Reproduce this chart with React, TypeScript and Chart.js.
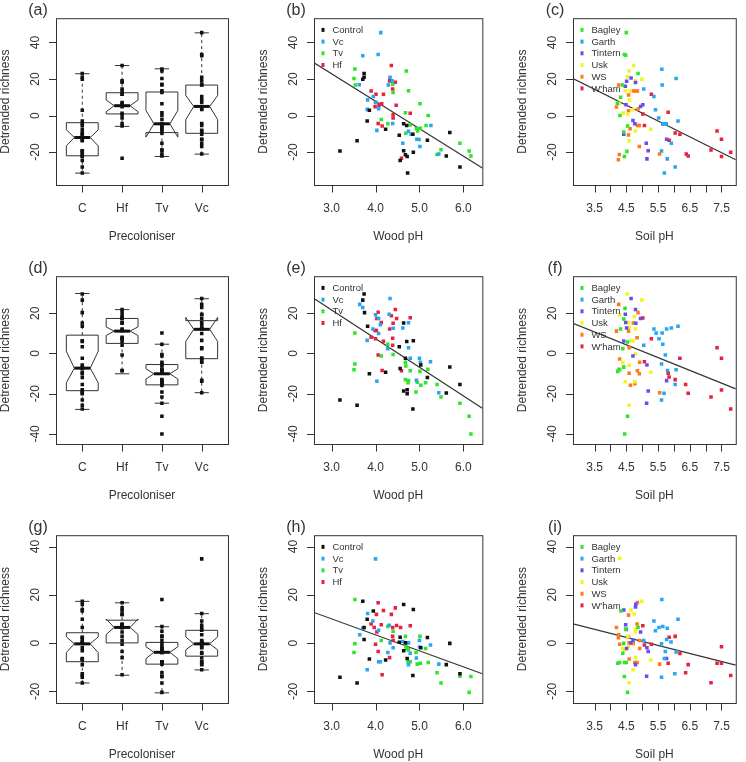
import React, { useEffect, useRef } from "react";
import { Chart, registerables } from "chart.js";

Chart.register(...registerables);

const FONT = "'Liberation Sans', Arial, Helvetica, sans-serif";
const INK = "#333333";

// ---------- categories / ticks ----------
const precolonisers = ["C", "Hf", "Tv", "Vc"];
const woodTicks = [3, 4, 5, 6];
const soilTicks = [3.5, 4, 4.5, 5, 5.5, 6, 6.5, 7, 7.5];
const soilLabelled = [3.5, 4.5, 5.5, 6.5, 7.5];
const catTicks = [1, 2, 3, 4];
const woodGroups = ["Control", "Vc", "Tv", "Hf"];
const woodColors = ["#111111", "#27A6F2", "#2EE52E", "#E6223F"];
const siteGroups = ["Bagley", "Garth", "Tintern", "Usk", "WS", "W'ham"];
const siteColors = ["#2EE52E", "#27A6F2", "#6A4BF2", "#F3F31E", "#FF7A1A", "#E6223F"];

type Pair = [number, number];

// ---------- panel (b): wood pH, row 1 ----------
const bControl: Pair[] = [[3.19,-19.4],[3.58,-13.8],[3.71,19.9],[3.74,23.0],[3.74,21.0],[3.81,-3.0],[3.86,2.9],[4.23,-7.5],[4.54,-10.8],[4.56,-24.6],[4.64,-4.5],[4.64,-19.2],[4.68,-21.5],[4.71,-5.4],[4.72,-22.4],[4.73,-31.4],[4.85,-10.2],[4.86,-20.1],[5.18,-13.5],[5.61,-22.1],[5.69,-9.3],[5.92,-28.2]];
const bVc: Pair[] = [[4.12,45.4],[3.71,32.8],[4.06,33.4],[3.63,16.9],[3.82,8.6],[3.81,3.4],[3.95,10.4],[4.01,7.2],[4.03,-8.1],[4.07,3.8],[4.33,21.0],[4.29,16.7],[4.38,19.0],[4.39,-4.3],[4.62,-15.1],[4.75,-8.6],[4.81,-10.2],[4.94,-12.9],[4.99,-13.1],[5.01,-16.9],[5.26,-5.4],[5.44,-21.0]];
const bTv: Pair[] = [[3.53,25.5],[3.51,20.3],[3.54,16.7],[4.13,-2.2],[4.28,-4.5],[4.39,17.2],[4.40,12.6],[4.70,24.4],[4.75,13.6],[4.68,1.6],[4.69,-9.7],[4.79,-5.2],[4.93,-7.2],[4.96,-8.4],[5.01,6.5],[5.02,-7.0],[5.15,-5.4],[5.20,0.0],[5.40,-21.3],[5.49,-18.7],[5.92,-15.2],[6.13,-19.4],[6.17,-22.1]];
const bHf: Pair[] = [[3.90,13.5],[4.00,7.2],[4.01,11.7],[3.99,4.8],[4.06,-4.3],[4.08,5.6],[4.15,-5.7],[4.18,11.7],[4.36,27.4],[4.32,19.0],[4.39,14.5],[4.45,18.3],[4.40,0.5],[4.47,5.7],[4.40,-1.3],[4.79,1.3],[4.59,-23.3],[4.14,6.5]];
const bLineX = [2.6, 6.43];
const bLineY = [28.9, -28.7];

// ---------- panel (c): soil pH, row 1 ----------
const cBagley: Pair[] = [[4.50,45.4],[4.44,33.4],[4.48,33.0],[4.38,16.7],[4.32,10.0],[4.22,6.8],[4.30,0.0],[4.87,23.0],[4.54,-5.7],[4.42,-9.0],[4.52,-19.6],[4.44,-22.4]];
const cGarth: Pair[] = [[5.62,25.3],[5.63,16.7],[6.07,20.3],[5.05,14.5],[5.37,10.4],[5.42,3.2],[5.52,-1.3],[6.13,-3.0],[5.65,-4.8],[5.71,-4.5],[5.76,-4.5],[5.92,-15.1],[5.61,-19.4],[5.79,-23.7],[6.04,-28.2],[5.70,-31.4]];
const cTintern: Pair[] = [[4.65,20.6],[4.51,18.8],[4.47,16.1],[4.79,18.1],[4.49,5.9],[4.95,5.0],[5.02,5.9],[4.71,-2.7],[4.77,-4.5],[4.42,-10.2],[5.13,-15.2],[5.19,-19.2],[5.15,-23.7],[5.77,-12.9]];
const cUsk: Pair[] = [[4.73,27.4],[4.59,24.4],[4.53,21.2],[4.79,19.0],[4.99,19.9],[4.47,13.6],[4.62,13.5],[4.60,8.6],[4.27,6.8],[4.40,1.4],[4.55,0.9],[4.71,3.2],[4.79,-8.4],[4.59,-13.8],[5.27,-7.5]];
const cWS: Pair[] = [[4.26,16.7],[4.19,4.7],[4.57,11.3],[4.72,13.5],[4.79,13.5],[4.85,13.5],[4.87,3.6],[4.57,2.7],[4.62,-7.2],[4.57,-10.6],[4.85,-5.4],[4.91,-5.4],[4.91,-16.9],[4.28,-21.3],[4.25,-24.2],[5.55,-21.0]];
const cWham: Pair[] = [[5.29,11.7],[5.02,0.9],[5.07,-5.4],[5.82,1.8],[5.85,-13.5],[6.04,-9.5],[6.19,-10.2],[6.39,-21.0],[6.45,-22.1],[7.17,-18.8],[7.36,-8.4],[7.50,-12.9],[7.50,-22.4],[7.79,-20.1]];
const cLineX = [2.82, 7.95];
const cLineY = [20.3, -24.2];

// ---------- panel (e): wood pH, row 2 ----------
const eControl: Pair[] = [[3.19,-23.1],[3.58,-25.7],[3.74,29.6],[3.71,26.5],[3.75,20.3],[3.82,13.5],[3.86,-10.1],[4.23,-9.3],[4.54,3.3],[4.56,-7.5],[4.64,15.1],[4.64,-18.7],[4.68,-2.4],[4.71,5.9],[4.72,-18.0],[4.72,-20.0],[4.86,6.3],[4.85,-27.6],[5.03,-5.7],[5.18,-11.9],[5.61,-19.7],[5.69,-6.7],[5.92,-15.4]];
const eVc: Pair[] = [[4.33,27.3],[3.64,24.4],[3.71,22.8],[3.81,6.5],[3.94,12.2],[4.00,19.2],[4.07,17.4],[4.11,14.3],[4.07,9.9],[4.03,-13.8],[4.28,2.4],[4.31,19.5],[4.40,12.5],[4.62,12.7],[4.75,15.3],[4.75,2.8],[4.79,-2.4],[5.00,-2.4],[5.02,-4.4],[5.25,-4.1],[4.93,-13.3],[5.44,-19.5]];
const eTv: Pair[] = [[3.53,10.2],[3.53,-5.2],[3.51,-8.1],[4.13,-1.3],[4.28,4.6],[4.40,-0.5],[4.68,-4.4],[4.69,-6.2],[4.68,-13.0],[4.74,-14.6],[4.75,-13.5],[4.79,-8.6],[4.92,-19.2],[4.95,-14.3],[5.01,-8.9],[5.03,-15.8],[5.14,-14.6],[5.19,-7.8],[5.40,-15.4],[5.49,-21.6],[5.92,-24.7],[6.13,-31.2],[6.17,-40.0]];
const eHf: Pair[] = [[4.06,20.5],[4.03,17.4],[4.13,15.4],[3.90,8.1],[3.99,11.4],[4.02,11.4],[4.00,7.3],[4.18,6.0],[4.36,18.7],[4.40,15.0],[4.45,21.8],[4.48,17.4],[4.32,12.2],[4.39,7.6],[4.39,4.1],[4.06,-0.8],[4.15,-8.5],[4.59,-8.6],[4.79,17.7]];
const eLineX = [2.6, 6.43];
const eLineY = [27.3, -27.2];

// ---------- panel (f): soil pH, row 2 ----------
const fBagley: Pair[] = [[4.46,22.4],[4.42,17.1],[4.32,12.2],[4.54,5.7],[4.39,2.4],[4.42,-6.8],[4.23,-8.9],[4.29,-8.1],[4.54,-31.2],[4.45,-40.0]];
const fGarth: Pair[] = [[5.37,12.2],[5.44,10.1],[5.63,10.2],[5.77,12.2],[5.92,12.7],[6.13,13.5],[5.53,7.3],[5.65,4.6],[5.05,4.1],[5.73,-0.8],[5.61,-5.2],[5.80,-8.5],[6.07,-8.1],[6.04,-15.4],[5.69,-19.8],[5.61,-23.1]];
const fTintern: Pair[] = [[4.65,27.3],[4.79,21.8],[4.47,19.5],[4.48,15.4],[4.80,15.0],[4.51,12.7],[4.95,17.4],[4.42,6.2],[4.71,-1.3],[5.15,-5.7],[5.77,-13.5],[5.19,-18.7],[5.14,-24.7]];
const fUsk: Pair[] = [[4.53,29.6],[4.99,26.5],[4.29,19.2],[4.75,18.4],[4.57,15.4],[4.59,13.0],[4.79,12.2],[4.67,6.2],[4.71,6.2],[4.79,-0.3],[4.39,-4.6],[4.59,-5.9],[4.47,-14.1],[4.77,-14.1],[5.27,-9.3],[4.59,-25.7]];
const fWS: Pair[] = [[4.26,24.4],[4.19,11.1],[4.57,11.1],[4.72,15.1],[4.87,20.3],[4.84,7.8],[4.59,2.9],[4.29,-2.8],[4.27,-7.8],[4.92,-4.4],[4.85,-8.6],[4.91,-10.1],[4.59,-9.8],[4.63,-15.8],[4.77,-15.0],[5.55,-19.5]];
const fWham: Pair[] = [[5.02,17.6],[5.29,7.3],[5.07,-4.1],[6.19,-2.4],[5.82,-9.8],[5.85,-11.7],[6.04,-13.0],[6.37,-15.4],[6.45,-19.8],[7.17,-21.6],[7.36,2.8],[7.50,-2.4],[7.50,-18.2],[7.79,-27.6]];
const fLineX = [2.82, 7.95];
const fLineY = [15.0, -17.6];

// ---------- panel (h): wood pH, row 3 ----------
const hControl: Pair[] = [[3.19,-14.1],[3.58,-16.5],[3.71,17.3],[3.74,6.5],[3.74,1.5],[3.81,9.9],[3.86,-6.6],[3.95,13.3],[4.23,-7.0],[4.54,0.4],[4.56,2.4],[4.64,16.0],[4.64,-3.2],[4.68,0.1],[4.72,-6.4],[4.86,13.9],[4.85,-13.4],[5.03,-1.9],[5.18,2.3],[5.61,-8.9],[5.69,-0.1],[5.92,-12.7]];
const hVc: Pair[] = [[4.00,34.9],[3.82,12.3],[3.94,9.2],[3.71,6.2],[3.64,3.5],[3.81,-11.0],[4.07,5.3],[4.07,-7.7],[4.11,-7.7],[4.31,7.4],[4.33,0.1],[4.28,-3.9],[4.40,-1.9],[4.62,0.7],[4.75,0.1],[4.79,-4.2],[4.75,-8.9],[4.93,-6.2],[5.00,1.1],[5.00,-1.6],[5.25,-0.8],[5.44,-8.7]];
const hTv: Pair[] = [[3.53,18.1],[3.53,-0.3],[3.51,-3.9],[4.13,1.1],[4.28,6.9],[4.40,4.9],[4.68,2.8],[4.69,-1.5],[4.71,-2.3],[4.75,-2.8],[4.74,-7.7],[4.79,-7.7],[4.92,-3.9],[4.95,-8.7],[5.01,2.8],[5.02,-8.3],[5.14,-2.2],[5.20,-8.0],[5.40,-12.3],[5.49,-16.5],[5.92,-13.7],[6.13,-20.4],[6.17,-13.8]];
const hHf: Pair[] = [[4.06,16.7],[4.18,13.5],[4.45,14.6],[4.36,11.9],[4.02,11.9],[3.90,7.9],[3.97,6.5],[4.13,7.6],[4.48,7.3],[4.39,6.5],[4.57,6.5],[4.79,7.2],[4.03,4.6],[4.39,2.8],[4.40,1.1],[4.00,-0.5],[4.06,-3.5],[4.32,-6.0],[4.15,-13.1]];
const hLineX = [2.6, 6.43];
const hLineY = [12.7, -12.7];

// ---------- panel (i): soil pH, row 3 ----------
const iBagley: Pair[] = [[4.33,13.3],[4.23,-8.3],[4.29,-8.0],[4.39,-4.2],[4.42,-0.1],[4.44,-8.0],[4.48,5.8],[4.50,-8.0],[4.44,-13.8],[4.54,-20.4],[4.87,6.6]];
const iGarth: Pair[] = [[5.62,18.1],[6.13,9.9],[5.37,9.2],[5.42,5.1],[5.53,6.5],[5.65,6.9],[5.79,6.2],[5.77,1.5],[5.91,0.5],[5.05,1.1],[5.61,-0.3],[5.73,-3.5],[6.07,-3.7],[5.70,-6.4],[6.03,-12.7],[5.61,-14.1]];
const iTintern: Pair[] = [[4.42,13.7],[4.79,15.0],[4.80,16.1],[4.48,7.6],[4.50,5.6],[4.95,4.6],[4.51,-2.2],[4.71,1.2],[4.65,0.1],[5.15,-1.9],[5.19,-3.5],[5.77,-6.4],[5.14,-13.7],[4.79,-8.9]];
const iUsk: Pair[] = [[4.29,35.1],[4.99,17.3],[4.65,13.7],[4.75,12.1],[4.79,5.8],[4.79,4.6],[4.55,2.8],[4.57,-1.5],[4.39,-2.2],[4.45,-2.8],[4.59,-16.4],[4.71,-11.0],[4.79,-6.0],[5.27,-7.0],[4.67,-0.3]];
const iWS: Pair[] = [[4.57,11.6],[4.85,16.8],[4.19,6.5],[4.26,3.5],[4.25,2.2],[4.29,-0.5],[4.57,2.6],[4.59,0.1],[4.72,-0.1],[4.84,7.9],[4.92,1.1],[4.92,-2.2],[4.59,-6.6],[4.77,-8.0],[4.84,-8.0],[5.55,-8.7]];
const iWham: Pair[] = [[5.02,7.2],[5.07,-0.8],[5.29,-0.5],[5.85,2.4],[6.04,2.8],[5.82,-8.3],[6.19,-4.3],[6.37,-12.3],[6.45,-8.9],[7.17,-16.4],[7.36,-8.3],[7.50,-1.5],[7.50,-8.3],[7.79,-13.4]];
const iLineX = [2.82, 7.95];
const iLineY = [8.0, -9.1];

// ---------- boxplot statistics (order C, Hf, Tv, Vc) ----------
const aLow = [-31.5, -5.9, -22.4, -21.1];
const aQ1 = [-22.0, 0.9, -9.3, -9.7];
const aMed = [-12.0, 5.4, -4.5, 5.0];
const aQ3 = [-3.9, 12.5, 12.9, 16.7];
const aHigh = [22.9, 27.4, 25.6, 45.3];
const aNotchLo = [-16.6, 2.1, -11.8, -2.2];
const aNotchHi = [-7.8, 8.5, 2.8, 11.0];

const dLow = [-27.8, -10.1, -24.7, -19.5];
const dQ1 = [-18.5, 5.0, -15.6, -2.6];
const dMed = [-7.3, 11.1, -10.1, 12.0];
const dQ3 = [9.1, 17.4, -5.5, 16.3];
const dHigh = [29.8, 21.8, 4.6, 27.2];
const dNotchLo = [-14.6, 8.9, -12.7, 6.0];
const dNotchHi = [1.1, 13.2, -7.6, 17.9];

const gLow = [-16.5, -13.3, -20.6, -11.1];
const gQ1 = [-7.7, 0.1, -8.7, -5.4];
const gMed = [-0.3, 6.5, -3.8, -0.3];
const gQ3 = [4.3, 9.5, 0.3, 5.3];
const gHigh = [17.3, 16.7, 6.8, 12.2];
const gNotchLo = [-3.9, 3.6, -6.4, -2.8];
const gNotchHi = [2.6, 10.0, -1.5, 2.6];

// ---------- axis ranges per row ----------
const rowYMin = [-38, -45, -24.8];
const rowYMax = [53.3, 38.4, 44.7];
const rowYTicks = [[-20, 0, 20, 40], [-40, -20, 0, 20], [-20, 0, 20, 40]];
const woodRange = [2.6, 6.43];
const soilRange = [2.82, 7.95];
const catRange = [0.34, 4.66];

// ---------- layout (pixels) ----------
const COL_L = [56, 314, 573];
const COL_R = [228, 486, 744];
const ROW_T = [15, 273, 532];
const ROW_B = [185, 444, 703];
const PAD_L = 57, PAD_T = 16, PAD_R = 2, PAD_B = 60;

type Series = { name: string; color: string; pts: Pair[] };
type BoxStats = { low: number[]; q1: number[]; med: number[]; q3: number[]; high: number[]; nlo: number[]; nhi: number[] };
type Panel = {
  label: string; col: number; row: number;
  xRange: number[]; xTicks: number[]; xFmt: (v: number) => string; xTitle: string;
  series: Series[]; line?: { x: number[]; y: number[] }; legend: boolean; box?: BoxStats;
};

const mk = (names: string[], colors: string[], sets: Pair[][]): Series[] =>
  sets.map((pts, i) => ({ name: names[i], color: colors[i], pts }));

const woodFmt = (v: number) => v.toFixed(1);
const soilFmt = (v: number) => (soilLabelled.includes(v) ? v.toFixed(1) : "");
const catFmt = (v: number) => precolonisers[v - 1] ?? "";

// boxplot strip points: C=Control, Hf, Tv, Vc
const boxSeries = (groups: Pair[][]): Series[] =>
  groups.map((g, i) => ({ name: precolonisers[i], color: "#111111", pts: g.map(([, y]) => [i + 1, y] as Pair) }));

const PANELS: Panel[] = [
  { label: "(a)", col: 0, row: 0, xRange: catRange, xTicks: catTicks, xFmt: catFmt, xTitle: "Precoloniser",
    series: boxSeries([bControl, bHf, bTv, bVc]), legend: false,
    box: { low: aLow, q1: aQ1, med: aMed, q3: aQ3, high: aHigh, nlo: aNotchLo, nhi: aNotchHi } },
  { label: "(b)", col: 1, row: 0, xRange: woodRange, xTicks: woodTicks, xFmt: woodFmt, xTitle: "Wood pH",
    series: mk(woodGroups, woodColors, [bControl, bVc, bTv, bHf]), line: { x: bLineX, y: bLineY }, legend: true },
  { label: "(c)", col: 2, row: 0, xRange: soilRange, xTicks: soilTicks, xFmt: soilFmt, xTitle: "Soil pH",
    series: mk(siteGroups, siteColors, [cBagley, cGarth, cTintern, cUsk, cWS, cWham]), line: { x: cLineX, y: cLineY }, legend: true },
  { label: "(d)", col: 0, row: 1, xRange: catRange, xTicks: catTicks, xFmt: catFmt, xTitle: "Precoloniser",
    series: boxSeries([eControl, eHf, eTv, eVc]), legend: false,
    box: { low: dLow, q1: dQ1, med: dMed, q3: dQ3, high: dHigh, nlo: dNotchLo, nhi: dNotchHi } },
  { label: "(e)", col: 1, row: 1, xRange: woodRange, xTicks: woodTicks, xFmt: woodFmt, xTitle: "Wood pH",
    series: mk(woodGroups, woodColors, [eControl, eVc, eTv, eHf]), line: { x: eLineX, y: eLineY }, legend: true },
  { label: "(f)", col: 2, row: 1, xRange: soilRange, xTicks: soilTicks, xFmt: soilFmt, xTitle: "Soil pH",
    series: mk(siteGroups, siteColors, [fBagley, fGarth, fTintern, fUsk, fWS, fWham]), line: { x: fLineX, y: fLineY }, legend: true },
  { label: "(g)", col: 0, row: 2, xRange: catRange, xTicks: catTicks, xFmt: catFmt, xTitle: "Precoloniser",
    series: boxSeries([hControl, hHf, hTv, hVc]), legend: false,
    box: { low: gLow, q1: gQ1, med: gMed, q3: gQ3, high: gHigh, nlo: gNotchLo, nhi: gNotchHi } },
  { label: "(h)", col: 1, row: 2, xRange: woodRange, xTicks: woodTicks, xFmt: woodFmt, xTitle: "Wood pH",
    series: mk(woodGroups, woodColors, [hControl, hVc, hTv, hHf]), line: { x: hLineX, y: hLineY }, legend: true },
  { label: "(i)", col: 2, row: 2, xRange: soilRange, xTicks: soilTicks, xFmt: soilFmt, xTitle: "Soil pH",
    series: mk(siteGroups, siteColors, [iBagley, iGarth, iTintern, iUsk, iWS, iWham]), line: { x: iLineX, y: iLineY }, legend: true },
];

const decorPlugin = {
  id: "panelDecor",
  beforeDatasetsDraw(chart: any, _args: any, o: any) {
    const { ctx, chartArea: a, scales } = chart;
    const xs = scales.x, ys = scales.y;
    ctx.save();
    ctx.strokeStyle = INK;
    ctx.lineWidth = 1;
    ctx.setLineDash([]);
    ctx.strokeRect(a.left + 0.5, a.top + 0.5, a.right - a.left, a.bottom - a.top);
    ctx.beginPath();
    for (const t of xs.ticks) {
      const px = Math.round(xs.getPixelForValue(t.value)) + 0.5;
      ctx.moveTo(px, a.bottom + 0.5);
      ctx.lineTo(px, a.bottom + 7.5);
    }
    for (const t of ys.ticks) {
      const py = Math.round(ys.getPixelForValue(t.value)) + 0.5;
      ctx.moveTo(a.left + 0.5, py);
      ctx.lineTo(a.left - 7, py);
    }
    ctx.stroke();

    const b = o && o.box;
    if (b) {
      const X = (v: number) => xs.getPixelForValue(v);
      const Y = (v: number) => ys.getPixelForValue(v);
      for (let i = 0; i < b.med.length; i++) {
        const c = i + 1;
        const cx = X(c);
        const hw = X(c + 0.4) - cx;
        const sw = X(c + 0.18) - cx;
        ctx.strokeStyle = INK;
        ctx.lineWidth = 1;
        ctx.setLineDash([3, 3]);
        ctx.beginPath();
        ctx.moveTo(cx, Y(b.q3[i]));
        ctx.lineTo(cx, Y(b.high[i]));
        ctx.moveTo(cx, Y(b.q1[i]));
        ctx.lineTo(cx, Y(b.low[i]));
        ctx.stroke();
        ctx.setLineDash([]);
        ctx.beginPath();
        ctx.moveTo(cx - sw, Y(b.high[i]));
        ctx.lineTo(cx + sw, Y(b.high[i]));
        ctx.moveTo(cx - sw, Y(b.low[i]));
        ctx.lineTo(cx + sw, Y(b.low[i]));
        ctx.stroke();
        ctx.beginPath();
        ctx.moveTo(cx - hw, Y(b.q1[i]));
        ctx.lineTo(cx - hw, Y(b.nlo[i]));
        ctx.lineTo(cx - hw / 2, Y(b.med[i]));
        ctx.lineTo(cx - hw, Y(b.nhi[i]));
        ctx.lineTo(cx - hw, Y(b.q3[i]));
        ctx.lineTo(cx + hw, Y(b.q3[i]));
        ctx.lineTo(cx + hw, Y(b.nhi[i]));
        ctx.lineTo(cx + hw / 2, Y(b.med[i]));
        ctx.lineTo(cx + hw, Y(b.nlo[i]));
        ctx.lineTo(cx + hw, Y(b.q1[i]));
        ctx.closePath();
        ctx.stroke();
        ctx.strokeStyle = "#111";
        ctx.lineWidth = 3;
        ctx.beginPath();
        ctx.moveTo(cx - hw / 2, Y(b.med[i]));
        ctx.lineTo(cx + hw / 2, Y(b.med[i]));
        ctx.stroke();
      }
    }
    ctx.restore();
  },
  afterDraw(chart: any, _args: any, o: any) {
    const { ctx, chartArea: a } = chart;
    ctx.save();
    ctx.fillStyle = INK;
    ctx.textAlign = "center";
    ctx.textBaseline = "middle";
    ctx.font = `16px ${FONT}`;
    ctx.fillText(o.label, a.left - 18, a.top - 8);
    const items = o.legend || [];
    ctx.font = `9.5px ${FONT}`;
    ctx.textAlign = "left";
    for (let i = 0; i < items.length; i++) {
      const y = a.top + 11.7 * (i + 1);
      ctx.fillStyle = items[i].color;
      ctx.fillRect(a.left + 7.5, y - 2, 3, 4);
      ctx.fillStyle = INK;
      ctx.fillText(items[i].text, a.left + 18.4, y + 0.5);
    }
    ctx.restore();
  },
};

function makeConfig(p: Panel): any {
  const datasets: any[] = p.series.map((s) => ({
    label: s.name,
    data: s.pts.map(([x, y]) => ({ x, y })),
    pointStyle: "rect",
    pointRadius: 2.5,
    pointBackgroundColor: s.color,
    pointBorderWidth: 0,
    backgroundColor: s.color,
    borderColor: s.color,
    showLine: false,
  }));
  if (p.line) {
    datasets.push({
      label: "fit",
      data: p.line.x.map((x, i) => ({ x, y: p.line!.y[i] })),
      showLine: true,
      pointRadius: 0,
      borderColor: INK,
      borderWidth: 1.2,
      fill: false,
    });
  }
  const tickFont = { family: FONT, size: 12 };
  const yTicks = rowYTicks[p.row];
  return {
    type: "scatter",
    data: { datasets },
    options: {
      responsive: false,
      animation: false,
      devicePixelRatio: 1,
      events: [],
      layout: { padding: { top: PAD_T, right: PAD_R, left: 0, bottom: 0 }, autoPadding: false },
      plugins: {
        legend: { display: false },
        tooltip: { enabled: false },
        panelDecor: {
          label: p.label,
          legend: p.legend ? p.series.map((s) => ({ text: s.name, color: s.color })) : [],
          box: p.box,
        },
      },
      scales: {
        x: {
          type: "linear",
          position: "bottom",
          min: p.xRange[0],
          max: p.xRange[1],
          grid: { display: false, drawTicks: false },
          border: { display: false },
          afterBuildTicks: (s: any) => { s.ticks = p.xTicks.map((v) => ({ value: v })); },
          afterFit: (s: any) => { s.height = PAD_B; },
          ticks: {
            autoSkip: false, minRotation: 0, maxRotation: 0, padding: 16,
            color: INK, font: tickFont,
            callback: (v: any) => p.xFmt(Number(v)),
          },
          title: { display: true, text: p.xTitle, color: INK, font: { family: FONT, size: 12, lineHeight: 1 }, padding: { top: 0, bottom: 2 } },
        },
        y: {
          type: "linear",
          position: "left",
          min: rowYMin[p.row],
          max: rowYMax[p.row],
          grid: { display: false, drawTicks: false },
          border: { display: false },
          afterBuildTicks: (s: any) => { s.ticks = yTicks.map((v) => ({ value: v })); },
          afterFit: (s: any) => { s.width = PAD_L; },
          ticks: {
            autoSkip: false, minRotation: 90, maxRotation: 90, crossAlign: "center", padding: 12,
            color: INK, font: tickFont,
            callback: (v: any) => String(v),
          },
          title: { display: true, text: "Detrended richness", color: INK, font: { family: FONT, size: 12, lineHeight: 1 }, padding: { top: 1, bottom: 0 } },
        },
      },
    },
    plugins: [decorPlugin],
  };
}

export default function App() {
  const refs = useRef<(HTMLCanvasElement | null)[]>([]);
  useEffect(() => {
    const charts = PANELS.map((p, i) => new Chart(refs.current[i] as HTMLCanvasElement, makeConfig(p)));
    return () => charts.forEach((c) => c.destroy());
  }, []);
  return (
    <div style={{ position: "absolute", left: 0, top: 0, width: 746, height: 762, overflow: "hidden", background: "#fff" }}>
      {PANELS.map((p, i) => {
        const l = COL_L[p.col] - PAD_L;
        const t = ROW_T[p.row] - PAD_T;
        const w = COL_R[p.col] - COL_L[p.col] + PAD_L + PAD_R;
        const h = ROW_B[p.row] - ROW_T[p.row] + PAD_T + PAD_B;
        return (
          <canvas
            key={i}
            ref={(el) => { refs.current[i] = el; }}
            width={w}
            height={h}
            style={{ position: "absolute", left: l, top: t, width: w, height: h }}
          />
        );
      })}
    </div>
  );
}
